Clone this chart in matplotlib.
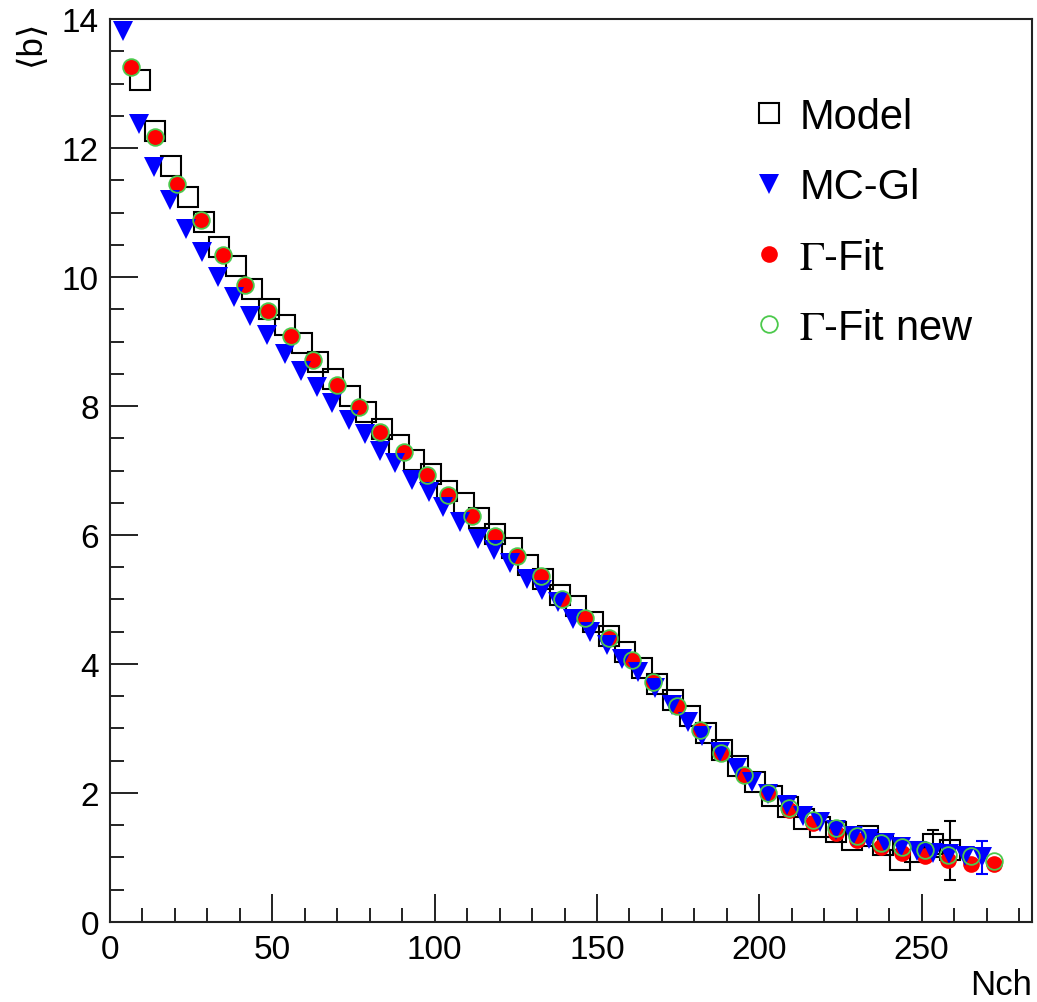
import numpy as np
import matplotlib
matplotlib.use("Agg")
import matplotlib.pyplot as plt
from matplotlib.lines import Line2D
from matplotlib.ticker import MultipleLocator

plt.rcParams['font.family'] = ['Liberation Sans', 'DejaVu Sans']
plt.rcParams['mathtext.fontset'] = 'stix'

# Model (open squares), same binning as MC-Gl
model_x = [9.1, 13.9, 18.9, 23.9, 28.8, 33.7, 38.8, 43.7, 49.1, 54.0, 59.1, 64.0,
           68.8, 74.0, 78.9, 83.7, 88.9, 93.7, 98.8, 103.9, 108.9, 113.8, 118.6,
           123.8, 128.6, 133.5, 138.6, 143.6, 148.9, 153.8, 158.7, 163.8, 168.4,
           173.5, 178.7, 183.6, 188.4, 193.5, 198.7, 203.8, 208.9, 213.9, 218.7,
           223.6, 228.4, 233.6, 238.2, 243.2, 248.0, 253.6, 258.7]
model_y = [13.05, 12.27, 11.72, 11.24, 10.85, 10.47, 10.17, 9.82, 9.51, 9.25, 8.97,
           8.68, 8.42, 8.16, 7.91, 7.65, 7.39, 7.16, 6.95, 6.69, 6.49, 6.26, 6.02,
           5.80, 5.54, 5.32, 5.07, 4.90, 4.65, 4.44, 4.19, 3.94, 3.69, 3.44, 3.19,
           2.93, 2.66, 2.42, 2.17, 1.95, 1.79, 1.60, 1.48, 1.40, 1.27, 1.34, 1.19,
           0.96, 1.09, 1.21, 1.11]
model_err = [0.0] * 49 + [0.21, 0.46]

# MC-Gl (full triangles down)
mcgl_x = [3.9, 8.8, 13.6, 18.6, 23.5, 28.3, 33.4, 38.3, 43.2, 48.3, 54.0, 58.8,
          63.7, 68.3, 73.5, 78.6, 83.2, 87.8, 93.0, 98.1, 102.7, 107.8, 113.5,
          118.4, 123.2, 128.4, 133.0, 138.1, 142.7, 147.9, 153.0, 157.8, 162.7,
          167.9, 173.0, 177.9, 182.3, 187.9, 193.0, 197.7, 202.8, 208.4, 213.5,
          218.7, 223.6, 228.9, 233.8, 238.7, 243.6, 248.6, 253.5, 258.4, 263.4,
          268.5]
mcgl_y = [13.82, 12.38, 11.71, 11.19, 10.75, 10.39, 10.00, 9.69, 9.40, 9.10, 8.81,
          8.55, 8.29, 8.04, 7.78, 7.57, 7.31, 7.11, 6.85, 6.67, 6.43, 6.20, 5.94,
          5.76, 5.56, 5.32, 5.14, 4.96, 4.70, 4.50, 4.29, 4.08, 3.88, 3.62, 3.36,
          3.10, 2.89, 2.64, 2.38, 2.17, 1.99, 1.81, 1.65, 1.55, 1.43, 1.34, 1.28,
          1.22, 1.16, 1.10, 1.07, 1.05, 1.03, 1.00]
mcgl_err = [0.0] * 53 + [0.25]

# Gamma-Fit (full circles) and Gamma-Fit new (open circles)
fit_x = [6.5, 14.0, 20.7, 28.1, 34.9, 41.6, 48.7, 55.8, 62.4, 69.9, 76.8, 83.2,
         90.7, 97.6, 104.2, 111.6, 118.6, 125.3, 132.7, 139.2, 146.3, 153.7, 160.7,
         167.4, 174.6, 181.7, 188.2, 195.4, 202.6, 209.1, 216.4, 223.6, 230.2,
         237.5, 244.1, 251.0, 258.2, 265.1, 272.4]
fit_y = [13.26, 12.17, 11.44, 10.88, 10.34, 9.88, 9.47, 9.08, 8.71, 8.32, 7.98,
         7.59, 7.28, 6.93, 6.62, 6.30, 5.98, 5.67, 5.37, 5.01, 4.71, 4.40, 4.06,
         3.72, 3.35, 2.98, 2.62, 2.28, 2.00, 1.74, 1.53, 1.38, 1.27, 1.17, 1.07,
         1.02, 0.96, 0.90, 0.90]
fitnew_y = [13.26, 12.17, 11.44, 10.88, 10.34, 9.88, 9.47, 9.08, 8.71, 8.32, 7.98,
            7.59, 7.28, 6.93, 6.62, 6.30, 5.98, 5.67, 5.37, 5.01, 4.71, 4.40, 4.06,
            3.72, 3.35, 2.98, 2.62, 2.28, 2.00, 1.76, 1.575, 1.46, 1.33, 1.23, 1.16,
            1.11, 1.04, 1.02, 0.94]

green = '#4cc94c'

fig = plt.figure(figsize=(10.37, 10.03), dpi=100)
ax = fig.add_axes([0.1061, 0.0798, 0.8891, 0.9002])

# model
ax.plot(model_x, model_y, 's', ms=14.5, mfc='none', mec='black', mew=1.5, zorder=2)
mx = np.array(model_x); my = np.array(model_y); me = np.array(model_err)
k = me > 0
ax.errorbar(mx[k], my[k], yerr=me[k], fmt='none', ecolor='black', elinewidth=1.5,
            capsize=4, capthick=1.5, zorder=2)

# gamma fit
ax.plot(fit_x, fit_y, 'o', ms=12, mfc='red', mec='red', mew=0, zorder=3)

# mc-gl
ax.plot(mcgl_x, mcgl_y, 'v', ms=14, mfc='blue', mec='blue', mew=0, zorder=4)
bx = np.array(mcgl_x); by = np.array(mcgl_y); be = np.array(mcgl_err)
k = be > 0
ax.errorbar(bx[k], by[k], yerr=be[k], fmt='none', ecolor='blue', elinewidth=1.5,
            capsize=4, capthick=1.5, zorder=4)

# gamma fit new
ax.plot(fit_x, fitnew_y, 'o', ms=12, mfc='none', mec=green, mew=1.3, zorder=5)

ax.set_xlim(0, 284)
ax.set_ylim(0, 14)
ax.xaxis.set_major_locator(MultipleLocator(50))
ax.xaxis.set_minor_locator(MultipleLocator(10))
ax.yaxis.set_major_locator(MultipleLocator(2))
ax.yaxis.set_minor_locator(MultipleLocator(0.5))
ax.tick_params(which='both', direction='in', top=False, right=False,
               labelsize=24, width=1.4, color='#222222')
ax.tick_params(which='major', length=20)
ax.tick_params(which='minor', length=10)
ax.tick_params(axis='y', pad=8)
ax.tick_params(axis='x', pad=9)
for s in ax.spines.values():
    s.set_linewidth(1.5)
    s.set_color('#222222')

ax.text(1.0, -0.069, 'Nch', transform=ax.transAxes, ha='right', va='center', fontsize=25)
ax.text(-0.086, 1.0, '\u27e8b\u27e9', transform=ax.transAxes, ha='center', va='top',
        rotation=90, fontsize=25)

handles = [
    Line2D([], [], ls='none', marker='s', ms=14.5, mfc='none', mec='black', mew=1.5),
    Line2D([], [], ls='none', marker='v', ms=14, mfc='blue', mec='blue', mew=0),
    Line2D([], [], ls='none', marker='o', ms=12, mfc='red', mec='red', mew=0),
    Line2D([], [], ls='none', marker='o', ms=12, mfc='none', mec=green, mew=1.3),
]
labels = ['Model', 'MC-Gl', r'$\Gamma$-Fit', r'$\Gamma$-Fit new']
ax.legend(handles, labels, loc='upper left', bbox_to_anchor=(0.697, 0.914),
          frameon=False, fontsize=30, handlelength=0.8, handletextpad=0.32,
          labelspacing=0.73, borderpad=0, borderaxespad=0)

fig.savefig('out.png', dpi=100)
